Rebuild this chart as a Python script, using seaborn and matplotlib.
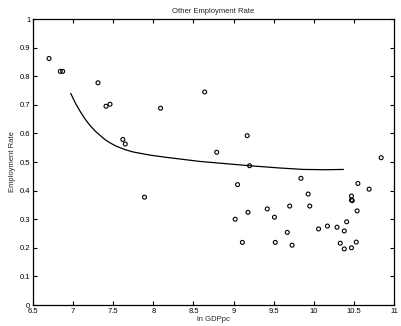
import matplotlib
matplotlib.use("Agg")
import matplotlib.pyplot as plt
import seaborn as sns
import pandas as pd

# Observations: log GDP per capita vs. other employment rate
ln_gdppc = [6.70, 6.84, 6.87, 7.31, 7.41, 7.46, 7.62, 7.65, 7.89, 8.09,
            8.64, 8.79, 9.02, 9.05, 9.11, 9.17, 9.18, 9.20, 9.42, 9.51,
            9.52, 9.67, 9.70, 9.73, 9.84, 9.93, 9.95, 10.06, 10.17, 10.29,
            10.33, 10.38, 10.38, 10.41, 10.47, 10.47, 10.48, 10.47, 10.53,
            10.54, 10.55, 10.69, 10.84]
emp_rate = [0.862, 0.817, 0.817, 0.777, 0.695, 0.702, 0.579, 0.563, 0.377, 0.688,
            0.745, 0.534, 0.300, 0.421, 0.219, 0.592, 0.324, 0.487, 0.336, 0.307,
            0.219, 0.254, 0.346, 0.209, 0.443, 0.388, 0.346, 0.266, 0.276, 0.272,
            0.216, 0.196, 0.259, 0.291, 0.381, 0.367, 0.365, 0.200, 0.220,
            0.329, 0.425, 0.405, 0.515]

# Fitted relationship
fit_x = [6.97, 7.03, 7.09, 7.15, 7.21, 7.28, 7.34, 7.40, 7.46, 7.54,
         7.65, 7.75, 7.96, 8.17, 8.58, 9.20, 9.58, 9.87, 10.15, 10.37]
fit_y = [0.740, 0.705, 0.676, 0.650, 0.628, 0.607, 0.592, 0.578, 0.567, 0.555,
         0.543, 0.535, 0.524, 0.516, 0.502, 0.487, 0.479, 0.474, 0.473, 0.474]

pts = pd.DataFrame({"x": ln_gdppc, "y": emp_rate})
fit = pd.DataFrame({"x": fit_x, "y": fit_y})

sns.set_theme(style="white")
plt.rcParams["font.family"] = ["Liberation Sans", "DejaVu Sans"]

fig = plt.figure(figsize=(4.01, 3.26), dpi=100)
ax = fig.add_axes([0.0823, 0.0644, 0.9002, 0.8773])

sns.scatterplot(data=pts, x="x", y="y", ax=ax, marker="o", s=8,
                facecolor="none", edgecolor="black", linewidth=0.8)
sns.lineplot(data=fit, x="x", y="y", ax=ax, color="black", linewidth=0.9,
             sort=True, estimator=None)

ax.set_xlim(6.5, 11)
ax.set_ylim(0, 1)
ax.set_xticks([6.5, 7, 7.5, 8, 8.5, 9, 9.5, 10, 10.5, 11])
ax.set_xticklabels(["6.5", "7", "7.5", "8", "8.5", "9", "9.5", "10", "10.5", "11"])
ax.set_yticks([0, 0.1, 0.2, 0.3, 0.4, 0.5, 0.6, 0.7, 0.8, 0.9, 1])
ax.set_yticklabels(["0", "0.1", "0.2", "0.3", "0.4", "0.5", "0.6", "0.7", "0.8", "0.9", "1"])

ax.tick_params(direction="in", length=3, width=0.8, labelsize=5.5,
               top=True, right=True, bottom=True, left=True,
               pad=2, colors="black")
for s in ax.spines.values():
    s.set_visible(True)
    s.set_color("black")
    s.set_linewidth(0.9)

ax.set_title("Other Employment Rate", fontsize=5.5, pad=4)
ax.set_xlabel("ln GDPpc", fontsize=5.5, labelpad=1)
ax.set_ylabel("Employment Rate", fontsize=5.5, labelpad=3)

fig.savefig("out.png", dpi=100)
